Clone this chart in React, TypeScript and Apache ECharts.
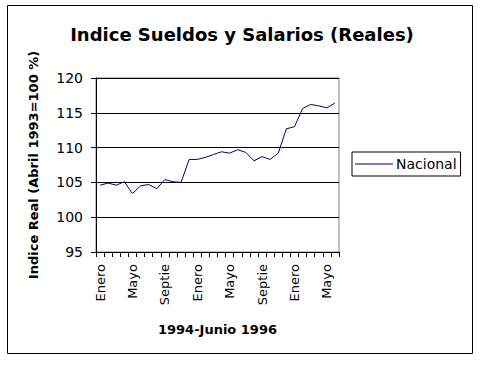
import React, { useEffect, useRef } from "react";
import * as echarts from "echarts";

const months: string[] = [
  "Enero", "Febrero", "Marzo", "Abril", "Mayo", "Junio", "Julio", "Agosto", "Septiembre", "Octubre", "Noviembre", "Diciembre",
  "Enero", "Febrero", "Marzo", "Abril", "Mayo", "Junio", "Julio", "Agosto", "Septiembre", "Octubre", "Noviembre", "Diciembre",
  "Enero", "Febrero", "Marzo", "Abril", "Mayo", "Junio",
];

const nacional: number[] = [
  104.6, 104.9, 104.6, 105.1, 103.4, 104.5, 104.7, 104.1, 105.4, 105.1,
  105.0, 108.3, 108.3, 108.6, 109.0, 109.4, 109.2, 109.7, 109.3, 108.1,
  108.7, 108.3, 109.2, 112.7, 113.0, 115.6, 116.2, 116.0, 115.7, 116.4,
];

const yTicks = { min: 95, max: 120, interval: 5 };

const FONT = "'DejaVu Sans', 'Liberation Sans', Arial, sans-serif";

export default function App() {
  const ref = useRef<HTMLDivElement>(null);
  useEffect(() => {
    if (!ref.current) return;
    const chart = echarts.init(ref.current, null, { renderer: "svg" });
    chart.setOption({
      animation: false,
      backgroundColor: "#fff",
      textStyle: { fontFamily: FONT, color: "#000" },
      title: {
        text: "Indice Sueldos y Salarios (Reales)",
        left: 237,
        textAlign: "center",
        top: 20,
        textStyle: { fontFamily: FONT, fontSize: 18, fontWeight: "bold", color: "#000" },
      },
      graphic: [
        {
          type: "rect",
          shape: { x: 7.5, y: 5.5, width: 465, height: 348 },
          style: { fill: "none", stroke: "#000", lineWidth: 1 },
          silent: true,
        },
      ],
      legend: {
        left: 352,
        top: 152,
        orient: "vertical",
        data: [{ name: "Nacional", icon: "rect" }],
        itemWidth: 38,
        itemHeight: 1,
        borderColor: "#000",
        borderWidth: 1,
        borderRadius: 0,
        padding: [5, 4, 5, 3],
        textStyle: { fontFamily: FONT, fontSize: 14, color: "#000", padding: [0, 0, 0, -2] },
      },
      grid: {
        left: 96,
        top: 78,
        width: 243,
        height: 174,
        show: true,
        borderColor: "#808080",
        borderWidth: 1,
        backgroundColor: "#fff",
      },
      xAxis: {
        type: "category",
        data: months,
        boundaryGap: true,
        name: "1994-Junio 1996",
        nameLocation: "middle",
        nameGap: 71,
        nameTextStyle: { fontFamily: FONT, fontSize: 13, fontWeight: "bold", color: "#000" },
        axisLine: { lineStyle: { color: "#000", width: 1 } },
        axisTick: { show: true, interval: 0, length: 5, lineStyle: { color: "#000" } },
        axisLabel: {
          interval: 3,
          rotate: 90,
          margin: 12,
          fontFamily: FONT,
          fontSize: 13,
          color: "#000",
          formatter: (v: string) => v.slice(0, 6),
        },
        splitLine: { show: false },
      },
      yAxis: {
        type: "value",
        min: yTicks.min,
        max: yTicks.max,
        interval: yTicks.interval,
        name: "Indice Real (Abril 1993=100 %)",
        nameLocation: "middle",
        nameGap: 56,
        nameTextStyle: { fontFamily: FONT, fontSize: 13, fontWeight: "bold", color: "#000" },
        axisLine: { show: true, lineStyle: { color: "#000", width: 1 } },
        axisTick: { show: true, length: 5, lineStyle: { color: "#000" } },
        axisLabel: { margin: 13, fontFamily: FONT, fontSize: 14, color: "#000" },
        splitLine: { show: true, lineStyle: { color: "#000", width: 1 } },
      },
      series: [
        {
          name: "Nacional",
          type: "line",
          data: nacional,
          symbol: "none",
          lineStyle: { color: "#000080", width: 1 },
          itemStyle: { color: "#000080" },
        },
      ],
    });
    return () => chart.dispose();
  }, []);
  return (
    <div
      ref={ref}
      style={{ position: "fixed", left: 0, top: 0, width: 480, height: 366 }}
    />
  );
}
